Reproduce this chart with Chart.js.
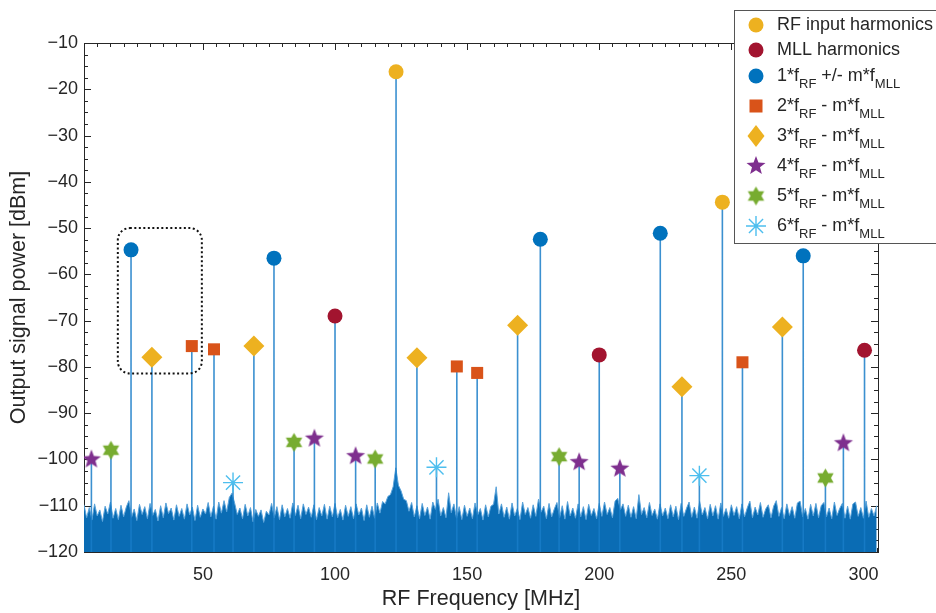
<!DOCTYPE html>
<html lang="en">
<head>
<meta charset="UTF-8">
<title>RF spectrum</title>
<script src="https://cdn.jsdelivr.net/npm/chart.js"></script>
<style>
  body { margin: 0; background: #fff; }
  canvas { display: block; }
</style>
</head>
<body>
<canvas id="spec" width="936" height="613"></canvas>
<script>
// ---- data ----
const xTickValues = [50, 100, 150, 200, 250, 300];
const yTickValues = [-120, -110, -100, -90, -80, -70, -60, -50, -40, -30, -20, -10];

const rfFreq = [123.1, 246.6];
const rfPow = [-16.2, -44.4];

const mllFreq = [100, 200, 300.4];
const mllPow = [-69, -77.4, -76.4];

const h1Freq = [22.8, 76.9, 177.7, 223.1, 277.2];
const h1Pow = [-54.7, -56.5, -52.4, -51.1, -56];

const h2Freq = [45.8, 54.2, 146.1, 153.8, 254.2];
const h2Pow = [-75.5, -76.2, -79.9, -81.3, -79];

const h3Freq = [30.7, 69.3, 131, 169.1, 231.3, 269.3];
const h3Pow = [-77.9, -75.5, -78, -71, -84.3, -71.4];

const h4Freq = [7.8, 92.2, 107.8, 192.4, 207.8, 292.4];
const h4Pow = [-100, -95.5, -99.3, -100.6, -102, -96.5];

const h5Freq = [15.2, 84.5, 115.2, 184.8, 285.6];
const h5Pow = [-98, -96.3, -99.9, -99.4, -104];

const h6Freq = [61.4, 138.4, 237.9];
const h6Pow = [-105, -101.7, -103.5];

// noise floor, one value per MHz from 5 MHz
const noiseStart = 5;
const noisePow = [
  -109.8,-112.6,-110.4,-113.1,-109.6,-112.2,-110.9,-113.4,-110.1,-111.8,-109.2,-112.7,-110.6,-113.0,-109.9,-112.4,-110.3,-108.9,-112.5,-110.7,
  -113.2,-109.7,-111.9,-110.2,-112.8,-109.5,-112.1,-110.8,-113.3,-110.0,-112.6,-109.4,-111.7,-110.5,-113.1,-109.8,-112.3,-110.6,-112.9,-109.6,
  -112.0,-110.3,-113.2,-109.9,-112.5,-110.7,-111.8,-109.3,-112.4,-110.1,-112.9,-109.2,-111.6,-108.9,-111.3,-108.2,-107.3,-109.4,-111.9,-110.5,
  -112.8,-109.7,-112.2,-110.4,-113.5,-110.8,-112.3,-110.9,-113.6,-111.2,-112.0,-109.5,-112.6,-110.2,-113.0,-109.8,-112.4,-110.6,-112.7,-109.4,
  -112.1,-109.9,-112.8,-109.6,-111.9,-110.3,-112.5,-109.8,-113.0,-110.4,-112.2,-109.7,-112.9,-110.1,-112.4,-109.5,-112.6,-110.8,-113.1,-109.9,
  -112.3,-110.2,-112.8,-109.6,-112.0,-110.5,-113.2,-109.8,-112.5,-110.1,-112.7,-109.4,-111.6,-109.1,-109.6,-108.0,-107.6,-105.9,-101.8,-105.6,
  -106.8,-108.6,-108.9,-111.2,-109.3,-112.4,-110.0,-112.8,-109.5,-112.1,-110.3,-112.9,-109.2,-110.8,-108.6,-112.2,-110.4,-112.6,-107.2,-111.5,
  -109.6,-112.7,-110.2,-113.0,-109.9,-112.3,-110.5,-112.8,-109.4,-112.0,-110.6,-113.1,-109.8,-112.4,-110.1,-109.7,-105.9,-111.8,-109.6,-112.5,
  -110.3,-112.9,-109.4,-112.2,-110.6,-113.0,-109.2,-111.9,-110.4,-112.7,-109.8,-112.3,-108.6,-111.4,-110.1,-112.8,-109.5,-112.4,-110.7,-109.3,
  -112.6,-110.0,-112.9,-109.1,-112.2,-110.5,-112.7,-109.6,-112.4,-110.2,-113.0,-109.7,-112.1,-110.6,-112.8,-109.5,-112.3,-109.2,-111.9,-110.4,
  -112.6,-109.0,-108.4,-110.9,-109.6,-112.3,-109.9,-112.5,-110.2,-112.8,-107.6,-111.9,-110.4,-112.6,-109.3,-112.1,-110.7,-112.9,-109.6,-112.2,
  -110.5,-112.8,-109.8,-112.4,-110.1,-113.0,-109.5,-112.3,-110.6,-109.2,-112.5,-110.3,-112.7,-109.1,-112.0,-110.4,-112.8,-109.7,-112.2,-110.0,
  -112.9,-109.4,-112.3,-110.6,-112.7,-109.8,-112.1,-110.2,-112.8,-109.6,-112.4,-110.5,-109.0,-112.6,-110.3,-112.0,-109.3,-112.5,-110.7,-109.8,
  -112.6,-110.1,-108.9,-112.3,-110.4,-112.8,-109.6,-112.1,-110.2,-112.7,-109.4,-109.0,-112.4,-110.6,-112.9,-109.7,-112.2,-109.5,-112.6,-110.0,
  -109.3,-112.4,-110.5,-112.8,-109.2,-112.1,-110.6,-109.5,-112.7,-110.1,-112.9,-109.6,-109.2,-112.3,-110.4,-112.7,-109.0,-112.5,-110.6,-112.2,-110.0
];

// dotted box around the first group: [xmin, xmax, ymin, ymax]
const zoomBox = [17.8, 49.6, -81.4, -50];

const legendLabels = [
  [['RF input harmonics', 0]],
  [['MLL harmonics', 0]],
  [['1*f', 0], ['RF', 1], [' +/- m*f', 0], ['MLL', 1]],
  [['2*f', 0], ['RF', 1], [' - m*f', 0], ['MLL', 1]],
  [['3*f', 0], ['RF', 1], [' - m*f', 0], ['MLL', 1]],
  [['4*f', 0], ['RF', 1], [' - m*f', 0], ['MLL', 1]],
  [['5*f', 0], ['RF', 1], [' - m*f', 0], ['MLL', 1]],
  [['6*f', 0], ['RF', 1], [' - m*f', 0], ['MLL', 1]]
];

// ---- marker images ----
function starImage(n, outer, inner, color) {
  const s = Math.ceil(outer * 2 + 2);
  const c = document.createElement('canvas');
  c.width = s; c.height = s;
  const g = c.getContext('2d');
  g.translate(s / 2, s / 2);
  g.beginPath();
  for (let i = 0; i < n * 2; i++) {
    const r = i % 2 === 0 ? outer : inner;
    const a = -Math.PI / 2 + i * Math.PI / n;
    g.lineTo(r * Math.cos(a), r * Math.sin(a));
  }
  g.closePath();
  g.fillStyle = color;
  g.fill();
  return c;
}
const starImg = starImage(5, 10, 4.2, '#7E2F8E');
const hexImg = starImage(6, 9.5, 5.5, '#77AC30');

const pts = (fs, ps) => fs.map((f, i) => ({ x: f, y: ps[i] }));

const groups = [
  { f: rfFreq, p: rfPow, style: 'circle', r: 7.5, color: '#EDB120' },
  { f: mllFreq, p: mllPow, style: 'circle', r: 7.5, color: '#A2142F' },
  { f: h1Freq, p: h1Pow, style: 'circle', r: 7.5, color: '#0072BD' },
  { f: h2Freq, p: h2Pow, style: 'rect', r: 8.5, color: '#D95319' },
  { f: h3Freq, p: h3Pow, style: 'rectRot', r: 10.5, color: '#EDB120' },
  { f: h4Freq, p: h4Pow, style: starImg, r: 10, color: '#7E2F8E' },
  { f: h5Freq, p: h5Pow, style: hexImg, r: 10, color: '#77AC30' },
  { f: h6Freq, p: h6Pow, style: 'star', r: 10, color: '#4DBEEE' }
];

const stemData = [];
groups.forEach(g => g.f.forEach((f, i) => {
  stemData.push({ x: f, y: -120 }, { x: f, y: g.p[i] }, { x: f, y: null });
}));

const noiseData = noisePow.map((v, i) => ({ x: noiseStart + i, y: v }));

const datasets = [
  {
    type: 'line', data: noiseData, order: 10, fill: 'start',
    borderColor: '#5aa3da', borderWidth: 1, backgroundColor: '#0a6cb4',
    pointRadius: 0, tension: 0
  },
  {
    type: 'line', data: stemData, order: 9, fill: false,
    borderColor: 'rgba(25,125,200,0.85)', borderWidth: 1.6,
    pointRadius: 0, spanGaps: false
  }
];
groups.forEach(g => datasets.push({
  type: 'scatter', data: pts(g.f, g.p), order: 1,
  pointStyle: g.style, pointRadius: g.r, pointHoverRadius: g.r,
  backgroundColor: g.color, borderColor: g.color,
  borderWidth: g.style === 'star' ? 1.4 : 0
}));

const FONT = "'Liberation Sans', Arial, Helvetica, sans-serif";
const INK = '#262626';
const minusLabel = v => String(v).replace('-', '\u2212');

// frame with inward ticks (under the data, like MATLAB)
const framePlugin = {
  id: 'frame',
  beforeDatasetsDraw(chart) {
    const { ctx, chartArea: a, scales: { x, y } } = chart;
    ctx.save();
    ctx.strokeStyle = INK;
    ctx.lineWidth = 1;
    ctx.beginPath();
    for (let v = 5; v <= 305; v += 5) {
      const px = Math.round(x.getPixelForValue(v)) + 0.5;
      const len = v % 50 === 0 ? 7 : 4;
      ctx.moveTo(px, a.bottom); ctx.lineTo(px, a.bottom - len);
      ctx.moveTo(px, a.top); ctx.lineTo(px, a.top + len);
    }
    for (let v = -120; v <= -10; v += 2.5) {
      const py = Math.round(y.getPixelForValue(v)) + 0.5;
      const len = v % 10 === 0 ? 7 : 4;
      ctx.moveTo(a.left, py); ctx.lineTo(a.left + len, py);
      ctx.moveTo(a.right, py); ctx.lineTo(a.right - len, py);
    }
    ctx.stroke();
    ctx.strokeRect(Math.round(a.left) + 0.5, Math.round(a.top) + 0.5,
      Math.round(a.right - a.left), Math.round(a.bottom - a.top));
    ctx.restore();
  },
  afterDatasetsDraw(chart) {
    const { ctx, scales: { x, y } } = chart;
    const x0 = x.getPixelForValue(zoomBox[0]), x1 = x.getPixelForValue(zoomBox[1]);
    const y0 = y.getPixelForValue(zoomBox[3]), y1 = y.getPixelForValue(zoomBox[2]);
    ctx.save();
    ctx.strokeStyle = '#111';
    ctx.lineWidth = 2;
    ctx.setLineDash([2, 2.5]);
    ctx.beginPath();
    ctx.roundRect(x0, y0, x1 - x0, y1 - y0, 12);
    ctx.stroke();
    ctx.restore();
  }
};

function drawIcon(ctx, g, cx, cy) {
  ctx.save();
  ctx.fillStyle = g.color;
  ctx.strokeStyle = g.color;
  ctx.beginPath();
  if (g.style === 'circle') {
    ctx.arc(cx, cy, g.r, 0, Math.PI * 2); ctx.fill();
  } else if (g.style === 'rect') {
    ctx.fillRect(cx - 6.5, cy - 6.5, 13, 13);
  } else if (g.style === 'rectRot') {
    ctx.moveTo(cx, cy - 11); ctx.lineTo(cx + 8.5, cy); ctx.lineTo(cx, cy + 11); ctx.lineTo(cx - 8.5, cy);
    ctx.closePath(); ctx.fill();
  } else if (g.style === 'star') {
    ctx.lineWidth = 1.4;
    for (let k = 0; k < 4; k++) {
      const ang = k * Math.PI / 4;
      ctx.moveTo(cx - 10 * Math.cos(ang), cy - 10 * Math.sin(ang));
      ctx.lineTo(cx + 10 * Math.cos(ang), cy + 10 * Math.sin(ang));
    }
    ctx.stroke();
  } else {
    ctx.drawImage(g.style, cx - g.style.width / 2, cy - g.style.height / 2);
  }
  ctx.restore();
}

const legendPlugin = {
  id: 'mlegend',
  afterDraw(chart) {
    const ctx = chart.ctx;
    const rowsY = [25, 50, 76, 106, 136, 166, 196, 226];
    ctx.save();
    ctx.fillStyle = '#fff';
    ctx.fillRect(734.5, 10.5, 210, 233);
    ctx.strokeStyle = '#555';
    ctx.lineWidth = 1;
    ctx.strokeRect(734.5, 10.5, 210, 233);
    legendLabels.forEach((parts, i) => {
      const cy = rowsY[i];
      drawIcon(ctx, groups[i], 756, cy);
      let tx = 777;
      ctx.fillStyle = INK;
      ctx.textBaseline = 'middle';
      parts.forEach(([txt, sub]) => {
        ctx.font = (sub ? '13px ' : '18px ') + FONT;
        ctx.fillText(txt, tx, sub ? cy + 8 : cy);
        tx += ctx.measureText(txt).width;
      });
    });
    ctx.restore();
  }
};

new Chart(document.getElementById('spec'), {
  data: { datasets },
  options: {
    responsive: false,
    animation: false,
    devicePixelRatio: 1,
    layout: { padding: { top: 43, right: 58, left: 0, bottom: 0 } },
    plugins: { legend: { display: false }, tooltip: { enabled: false } },
    scales: {
      x: {
        type: 'linear', min: 5, max: 305.5,
        grid: { display: false, drawTicks: false, tickLength: 0 }, border: { display: false },
        afterBuildTicks: s => { s.ticks = xTickValues.map(v => ({ value: v })); },
        afterFit: s => { s.height = 61; },
        ticks: { color: INK, font: { family: FONT, size: 18 }, padding: 12, maxRotation: 0 },
        title: { display: true, text: 'RF Frequency [MHz]', color: INK,
          font: { family: FONT, size: 21.5 }, padding: { top: 0, bottom: 1 } }
      },
      y: {
        type: 'linear', min: -120, max: -10,
        grid: { display: false, drawTicks: false, tickLength: 0 }, border: { display: false },
        afterBuildTicks: s => { s.ticks = yTickValues.map(v => ({ value: v })); },
        afterFit: s => { s.width = 84; },
        ticks: { color: INK, font: { family: FONT, size: 18 }, padding: 6, callback: minusLabel },
        title: { display: true, text: 'Output signal power [dBm]', color: INK,
          font: { family: FONT, size: 21.5 }, padding: { top: 6, bottom: 0 } }
      }
    }
  },
  plugins: [framePlugin, legendPlugin]
});
</script>
</body>
</html>
